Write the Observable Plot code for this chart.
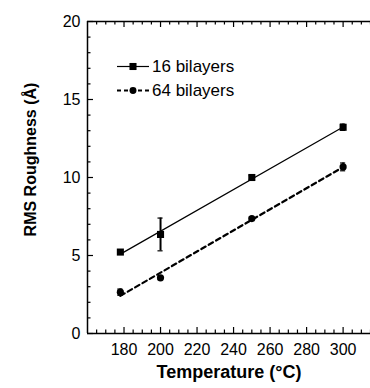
<!DOCTYPE html>
<html>
<head>
<meta charset="utf-8">
<script src="https://cdn.jsdelivr.net/npm/d3@7"></script>
<script src="https://cdn.jsdelivr.net/npm/@observablehq/plot@0.6"></script>
<style>
  html, body { margin: 0; padding: 0; background: #fff; }
  #wrap { position: relative; width: 370px; height: 388px; }
  #legend { position: absolute; left: 0; top: 0; }
</style>
</head>
<body>
<div id="wrap"></div>
<script>
// Data
const temperatures = [178, 200, 250, 300];
const rough16 = [5.22, 6.35, 10.0, 13.22];
const err16 = [0.12, 1.05, 0.12, 0.2];
const rough64 = [2.65, 3.57, 7.37, 10.68];
const err64 = [0.2, 0.12, 0.1, 0.25];
const seriesNames = ["16 bilayers", "64 bilayers"];
const xMajorTicks = [180, 200, 220, 240, 260, 280, 300];
const yMajorTicks = [0, 5, 10, 15, 20];

const s16 = temperatures.map((t, i) => ({x: t, y: rough16[i], e: err16[i]}));
const s64 = temperatures.map((t, i) => ({x: t, y: rough64[i], e: err64[i]}));

const W = 370, H = 388;
const mL = 87, mT = 21, mB = 55, mR = 0;
const frameW = W - mL - mR, frameH = H - mT - mB;
const xDomain = [160, 315];
const yDomain = [0, 20];

const xMinor = d3.range(160, 316, 5).filter(v => !xMajorTicks.includes(v) && v !== 160);
const yMinor = d3.range(0, 21, 1).filter(v => !yMajorTicks.includes(v));

const font = "Liberation Sans, Arial, Helvetica, sans-serif";
const majorLen = 6, minorLen = 3.5;

function errMarks(data) {
  return [
    Plot.ruleX(data, {x: "x", y1: d => d.y - d.e, y2: d => d.y + d.e, stroke: "black", strokeWidth: 2}),
    Plot.ruleY(data, {y: d => d.y - d.e, x1: d => d.x - 1.4, x2: d => d.x + 1.4, stroke: "black", strokeWidth: 1.2}),
    Plot.ruleY(data, {y: d => d.y + d.e, x1: d => d.x - 1.4, x2: d => d.x + 1.4, stroke: "black", strokeWidth: 1.2})
  ];
}

const chart = Plot.plot({
  width: W,
  height: H,
  marginLeft: mL,
  marginTop: mT,
  marginBottom: mB,
  marginRight: mR,
  style: {fontFamily: font, fontSize: "16px", color: "black", background: "white", overflow: "visible"},
  x: {domain: xDomain, axis: null},
  y: {domain: yDomain, axis: null},
  marks: [
    // axis lines
    Plot.ruleY([0, 20], {stroke: "black", strokeWidth: 1.5}),
    Plot.ruleX([160], {stroke: "black", strokeWidth: 1.5}),
    // inward ticks bottom
    Plot.tickX(xMajorTicks, {x: d => d, insetTop: frameH - majorLen, stroke: "black", strokeWidth: 1.2}),
    Plot.tickX(xMinor, {x: d => d, insetTop: frameH - minorLen, stroke: "black", strokeWidth: 1.2}),
    // inward ticks top
    Plot.tickX(xMajorTicks, {x: d => d, insetBottom: frameH - majorLen, stroke: "black", strokeWidth: 1.2}),
    Plot.tickX(xMinor, {x: d => d, insetBottom: frameH - minorLen, stroke: "black", strokeWidth: 1.2}),
    // inward ticks left
    Plot.tickY(yMajorTicks, {y: d => d, insetRight: frameW - majorLen, stroke: "black", strokeWidth: 1.2}),
    Plot.tickY(yMinor, {y: d => d, insetRight: frameW - minorLen, stroke: "black", strokeWidth: 1.2}),
    // tick labels
    Plot.axisX({ticks: xMajorTicks, tickSize: 0, tickPadding: 10, fontSize: 16, tickFormat: d => String(d), anchor: "bottom", label: null}),
    Plot.axisY({ticks: yMajorTicks, tickSize: 0, tickPadding: 7, fontSize: 16, tickFormat: d => String(d), anchor: "left", label: null}),
    // axis titles
    Plot.text(["Temperature (°C)"], {frameAnchor: "bottom", dy: 44, text: d => d, textAnchor: "middle", fontWeight: "bold", fontSize: 18}),
    Plot.text(["RMS Roughness (Å)"], {frameAnchor: "left", textAnchor: "middle", dx: -57, dy: -18, rotate: -90, text: d => d, fontWeight: "bold", fontSize: 16}),
    // fits
    Plot.linearRegressionY(s16, {x: "x", y: "y", ci: 0, stroke: "black", strokeWidth: 1.2}),
    Plot.linearRegressionY(s64, {x: "x", y: "y", ci: 0, stroke: "black", strokeWidth: 2.2, strokeDasharray: "5,3.5"}),
    // error bars
    ...errMarks(s16),
    ...errMarks(s64),
    // markers
    Plot.dot(s16, {x: "x", y: "y", symbol: "square", r: 4, fill: "black", stroke: "none"}),
    Plot.dot(s64, {x: "x", y: "y", symbol: "circle", r: 3.6, fill: "black", stroke: "none"})
  ]
});

const wrap = document.getElementById("wrap");
wrap.appendChild(chart);

// Legend (inside plot area, top-left)
const lg = d3.select(wrap).append("svg")
  .attr("id", "legend")
  .attr("width", W).attr("height", 120)
  .style("position", "absolute").style("left", "0px").style("top", "0px")
  .style("font-family", font);
const legendRows = [
  {name: seriesNames[0], dash: null, width: 1.2, symbol: d3.symbolSquare, size: 50},
  {name: seriesNames[1], dash: "4,3", width: 2, symbol: d3.symbolCircle, size: 38}
];
legendRows.forEach((r, i) => {
  const cy = 66.5 + i * 24;
  const g = lg.append("g");
  g.append("line").attr("x1", 117).attr("x2", 149).attr("y1", cy).attr("y2", cy)
    .attr("stroke", "black").attr("stroke-width", r.width).attr("stroke-dasharray", r.dash);
  g.append("path").attr("d", d3.symbol(r.symbol, r.size)()).attr("transform", `translate(133,${cy})`).attr("fill", "black");
  g.append("text").attr("x", 152).attr("y", cy).attr("dy", "0.35em").attr("font-size", 17).text(r.name);
});
</script>
</body>
</html>
